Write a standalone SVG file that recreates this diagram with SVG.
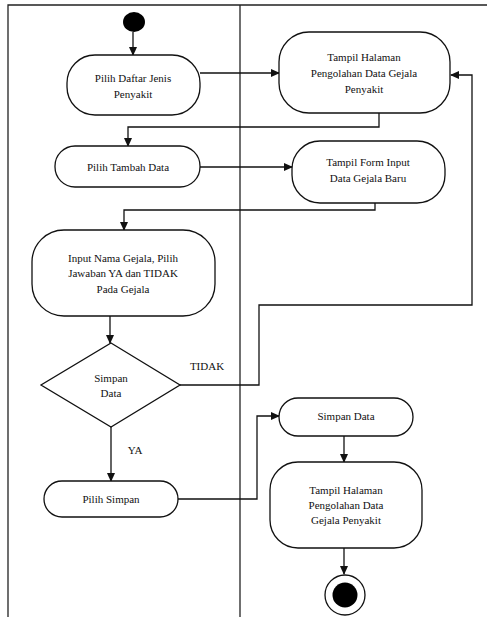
<svg xmlns="http://www.w3.org/2000/svg" width="487" height="617" viewBox="0 0 487 617">
<defs>
<style>
.n{fill:#fff;stroke:#111;stroke-width:1.3}
.t{font-family:"Liberation Serif","Times New Roman",serif;font-size:11px;fill:#111;text-anchor:middle}
.c{fill:none;stroke:#111;stroke-width:1.3}
.f{fill:none;stroke:#222;stroke-width:1.3}
</style>
<marker id="ah" markerWidth="9" markerHeight="8" refX="8" refY="4" orient="auto" markerUnits="userSpaceOnUse">
<path d="M0,0 L9,4 L0,8 Z" fill="#111"/>
</marker>
</defs>
<rect width="487" height="617" fill="#fff"/>
<g id="frame">
<path class="f" d="M8,617 V5 H487"/>
<path class="f" d="M240,5 V617"/>
</g>
<g id="connectors">
<path class="c" d="M133,32 V55" marker-end="url(#ah)"/>
<path class="c" d="M200,73 H279" marker-end="url(#ah)"/>
<path class="c" d="M379,113 V127 H128 V146" marker-end="url(#ah)"/>
<path class="c" d="M200,167 H292" marker-end="url(#ah)"/>
<path class="c" d="M375,203 V210 H124 V230" marker-end="url(#ah)"/>
<path class="c" d="M110,316 V343" marker-end="url(#ah)"/>
<path class="c" d="M180,385 H259 V305 H472 V75 H451" marker-end="url(#ah)"/>
<path class="c" d="M111,427 V481" marker-end="url(#ah)"/>
<path class="c" d="M178,499 H257 V416 H279" marker-end="url(#ah)"/>
<path class="c" d="M344,436 V462" marker-end="url(#ah)"/>
<path class="c" d="M344,548 V574" marker-end="url(#ah)"/>
<text class="t" x="207" y="370">TIDAK</text>
<text class="t" x="135" y="454">YA</text>
</g>
<g id="start"><ellipse cx="134" cy="22" rx="11" ry="10" fill="#000"/></g>
<g id="n1">
<rect class="n" x="67" y="55" width="133" height="60" rx="28"/>
<text class="t" x="133" y="82">Pilih Daftar Jenis</text>
<text class="t" x="133" y="98">Penyakit</text>
</g>
<g id="n2">
<rect class="n" x="279" y="32" width="171" height="81" rx="30"/>
<text class="t" x="364" y="61">Tampil Halaman</text>
<text class="t" x="364" y="77">Pengolahan Data Gejala</text>
<text class="t" x="364" y="93">Penyakit</text>
</g>
<g id="n3">
<rect class="n" x="55" y="146" width="145" height="41" rx="20"/>
<text class="t" x="128" y="171">Pilih Tambah Data</text>
</g>
<g id="n4">
<rect class="n" x="292" y="141" width="153" height="62" rx="28"/>
<text class="t" x="368" y="166">Tampil Form Input</text>
<text class="t" x="368" y="182">Data Gejala Baru</text>
</g>
<g id="n5">
<rect class="n" x="32" y="230" width="183" height="86" rx="32"/>
<text class="t" x="123" y="262">Input Nama Gejala, Pilih</text>
<text class="t" x="123" y="277">Jawaban  YA dan TIDAK</text>
<text class="t" x="123" y="293">Pada Gejala</text>
</g>
<g id="decision">
<path class="n" d="M111,343 L180,385 L111,427 L41,385 Z"/>
<text class="t" x="111" y="382">Simpan</text>
<text class="t" x="111" y="397">Data</text>
</g>
<g id="n6">
<rect class="n" x="44" y="481" width="134" height="36" rx="18"/>
<text class="t" x="111" y="503">Pilih Simpan</text>
</g>
<g id="n7">
<rect class="n" x="279" y="398" width="134" height="38" rx="19"/>
<text class="t" x="346" y="420">Simpan Data</text>
</g>
<g id="n8">
<rect class="n" x="270" y="462" width="152" height="86" rx="28"/>
<text class="t" x="346" y="494">Tampil Halaman</text>
<text class="t" x="346" y="509">Pengolahan Data</text>
<text class="t" x="346" y="524">Gejala Penyakit</text>
</g>
<g id="end">
<circle cx="345" cy="595" r="20" fill="#fff" stroke="#111" stroke-width="1.3"/>
<circle cx="345" cy="595" r="12.5" fill="#000"/>
</g>
</svg>
